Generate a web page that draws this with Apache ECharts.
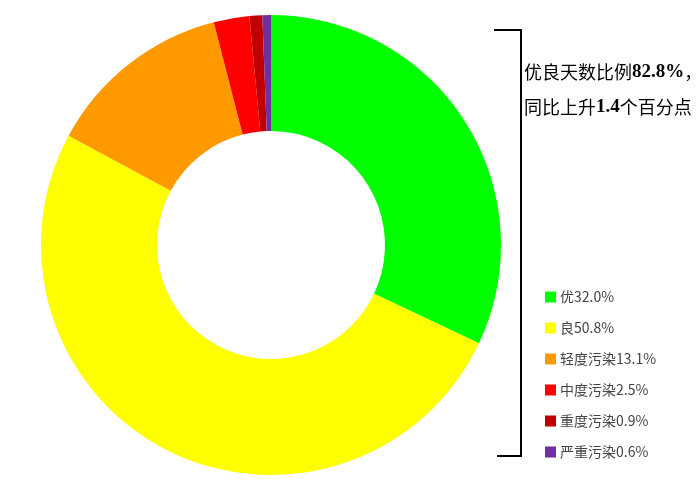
<!DOCTYPE html>
<html>
<head>
<meta charset="utf-8">
<script src="https://cdn.jsdelivr.net/npm/echarts@6/dist/echarts.min.js"></script>
<style>
  html, body { margin: 0; padding: 0; background: #fff; }
  #main { width: 700px; height: 488px; }
</style>
</head>
<body>
<div id="main"></div>
<script>
// 空气质量等级占比
const levels = ['优', '良', '轻度污染', '中度污染', '重度污染', '严重污染'];
const percents = [32.0, 50.8, 13.1, 2.5, 0.9, 0.6];
const colors = ['#00ff00', '#ffff00', '#ff9900', '#ff0000', '#c00000', '#7030a0'];
const goodRatio = '82.8%';
const riseValue = '1.4';

const chart = echarts.init(document.getElementById('main'));

const pieData = levels.map((name, i) => ({
  name: name,
  value: percents[i],
  itemStyle: { color: colors[i] }
}));

const option = {
  backgroundColor: '#fff',
  animation: false,
  legend: {
    orient: 'vertical',
    left: 540,
    top: 285,
    itemWidth: 11,
    itemHeight: 11,
    itemGap: 17,
    icon: 'rect',
    data: levels,
    formatter: name => {
      let i = levels.indexOf(name);
      return name + percents[i].toFixed(1) + '%';
    },
    textStyle: {
      color: '#444',
      fontSize: 14,
      fontFamily: 'Noto Sans CJK SC',
      padding: [0, 0, 0, -1]
    }
  },
  graphic: [
    {
      type: 'polyline',
      shape: { points: [[494, 30], [521, 30], [521, 456], [497, 456]] },
      style: { stroke: '#000', lineWidth: 2, fill: null }
    },
    {
      type: 'text',
      left: 524,
      top: 63,
      style: {
        text: '{a|优良天数比例}{b|' + goodRatio + '}{a|，}\n{a|同比上升}{b|' + riseValue + '}{a|个百分点}',
        rich: {
          a: { fontSize: 18, fontFamily: 'Noto Sans CJK SC', fill: '#000', lineHeight: 35 },
          b: { fontSize: 19, fontFamily: 'Liberation Serif', fontWeight: 'bold', fill: '#000', lineHeight: 35 }
        }
      }
    }
  ],
  series: [
    {
      type: 'pie',
      center: [271, 245],
      radius: [114, 230],
      startAngle: 90,
      clockwise: true,
      label: { show: false },
      labelLine: { show: false },
      emphasis: { disabled: true },
      data: pieData
    }
  ]
};

chart.setOption(option);
</script>
</body>
</html>
